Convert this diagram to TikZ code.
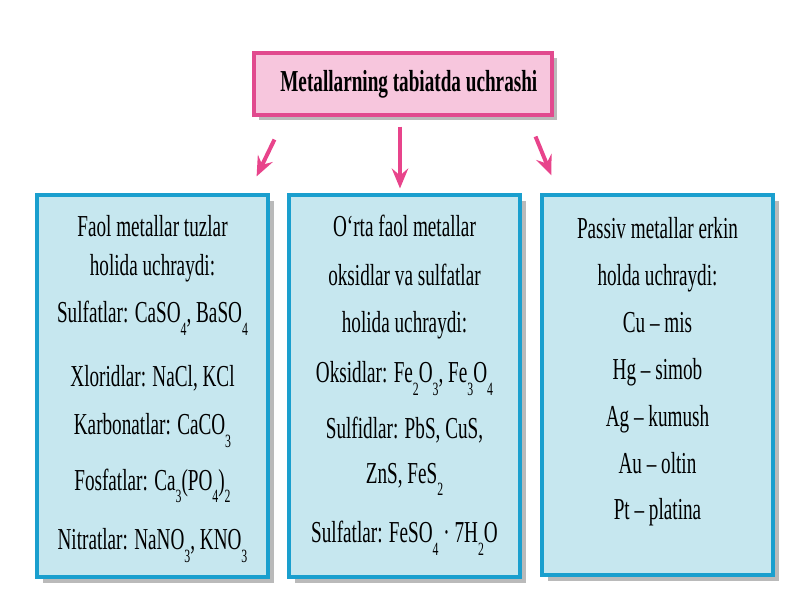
\documentclass[tikz,border=0pt]{standalone}
\usepackage{fontspec}
\setmainfont{Liberation Serif}[FakeStretch=0.63]
\usetikzlibrary{arrows.meta}
\usetikzlibrary{shadows}
\definecolor{pinkfill}{HTML}{F7C6DD}
\definecolor{pinkline}{HTML}{E14A8E}
\definecolor{bluefill}{HTML}{C6E7EF}
\definecolor{blueline}{HTML}{1A9FCE}
\definecolor{shadowgray}{HTML}{BABABA}
\definecolor{arrowpink}{HTML}{E8448B}
\newcommand{\ind}[1]{\raisebox{-10.5pt}{\fontsize{16}{16}\selectfont #1}}
\lineskiplimit=-40pt

\tikzset{
  titlebox/.style={draw=pinkline, fill=pinkfill, line width=2.6pt, minimum width=8.94cm, minimum height=1.86cm,
    drop shadow={shadow xshift=4.5pt, shadow yshift=-4.5pt, fill=shadowgray, opacity=1},
    font=\fontsize{26}{30}\selectfont\bfseries},
  bluebox/.style={draw=blueline, fill=bluefill, line width=2.7pt, minimum width=6.93cm, minimum height=11.46cm,
    drop shadow={shadow xshift=5pt, shadow yshift=-5pt, fill=shadowgray, opacity=1}},
  boxtext/.style={anchor=base, align=center, font=\fontsize{26}{33.3}\selectfont},
  pinkarrow/.style={draw=arrowpink, line width=3.4pt, -{Stealth[length=17pt,width=14pt,inset=6pt]}}
}

\begin{document}
\begin{tikzpicture}[x=0.03cm,y=-0.03cm]
\useasboundingbox (0,0) rectangle (800,600);

% title
\node [titlebox] (title) at (403,84) {\hspace{10pt}Metallarning tabiatda uchrashi};

% three boxes
\node [bluebox] (faol) at (152.5,386) {};
\node [bluebox] (orta) at (404.5,386) {};
\node [bluebox, minimum height=11.4cm] (passiv) at (657.5,385) {};

% texts (placed by the baseline of their last line)
\node [boxtext] (faoltext) at (152.5,550) {Faol metallar tuzlar\\
  holida uchraydi:\\[6.8pt]
  Sulfatlar: CaSO\ind{4}, BaSO\ind{4}\\[21.3pt]
  Xloridlar: NaCl, KCl\\[7.7pt]
  Karbonatlar: CaCO\ind{3}\\[13.7pt]
  Fosfatlar: Ca\ind{3}(PO\ind{4})\ind{2}\\[17.9pt]
  Nitratlar: NaNO\ind{3}, KNO\ind{3}};
\node [boxtext] (ortatext) at (404.5,543) {O‘rta faol metallar\\[8.5pt]
  oksidlar va sulfatlar\\[6.8pt]
  holida uchraydi:\\[9.4pt]
  Oksidlar: Fe\ind{2}O\ind{3}, Fe\ind{3}O\ind{4}\\[13.7pt]
  Sulfidlar: PbS, CuS,\\[5.1pt]
  ZnS, FeS\ind{2}\\[17.9pt]
  Sulfatlar: FeSO\ind{4} · 7H\ind{2}O};
\node [boxtext] (passivtext) at (657.5,520) {Passiv metallar erkin\\[6.8pt]
  holda uchraydi:\\[6.8pt]
  Cu -- mis\\[6.8pt]
  Hg -- simob\\[6.8pt]
  Ag -- kumush\\[6.8pt]
  Au -- oltin\\[6.8pt]
  Pt -- platina};

% arrows
\draw [pinkarrow] ([shift={(22,23)}]title.south west) -- ([shift={(-13,-17)}]faol.north east);
\draw [pinkarrow] ([shift={(-3,10)}]title.south) -- ([shift={(-4.5,-5)}]orta.north);
\draw [pinkarrow] ([shift={(-18,20)}]title.south east) -- ([shift={(11,-18)}]passiv.north west);

\end{tikzpicture}
\end{document}
